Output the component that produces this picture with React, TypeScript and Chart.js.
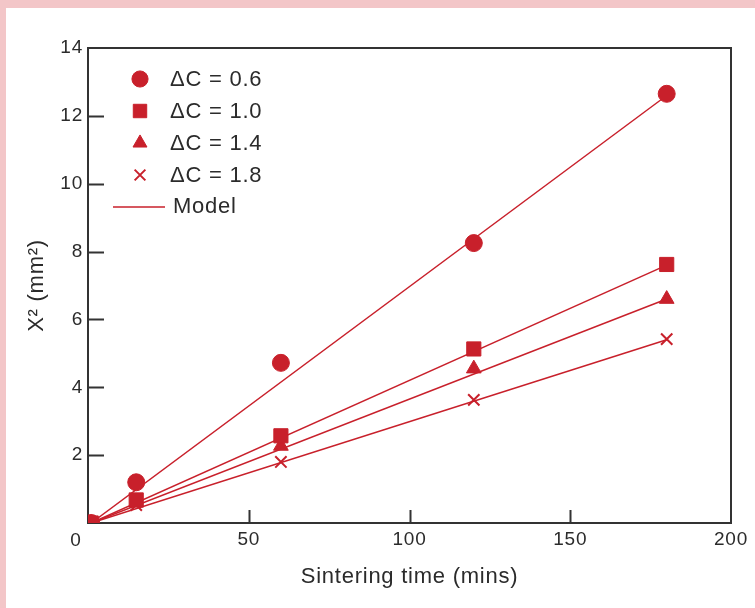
import React, { useEffect, useRef } from 'react';
import { Chart, registerables } from 'chart.js';
import { drawPoint } from 'chart.js/helpers';

Chart.register(...registerables);

// ---- data ----
const times = [1, 15, 60, 120, 180];
const dc06 = [0, 1.2, 4.72, 8.25, 12.65];
const dc10 = [0, 0.68, 2.57, 5.13, 7.62];
const dc14 = [0, 0.6, 2.27, 4.55, 6.6];
const dc18 = [0, 0.53, 1.8, 3.63, 5.42];
const modelTimes = [1, 180];
const model06 = [0, 12.6];
const model10 = [0, 7.6];
const model14 = [0, 6.6];
const model18 = [0, 5.4];
const seriesLabels = ['ΔC = 0.6', 'ΔC = 1.0', 'ΔC = 1.4', 'ΔC = 1.8'];
const modelLabel = 'Model';
const xTitle = 'Sintering time (mins)';
const yTitle = 'X² (mm²)';
const cornerLabel = '0';

const RED = '#c8202b';
const AXIS = '#333333';
const TEXT = '#2b2b2b';
const FONT = "'Liberation Sans', Arial, sans-serif";
const SPACING = '0.75px';

const markerStyles = [
  { pointStyle: 'circle', radius: 8.5, borderWidth: 1 },
  { pointStyle: 'rect', radius: 10, borderWidth: 1 },
  { pointStyle: 'triangle', radius: 8.5, borderWidth: 1 },
  { pointStyle: 'crossRot', radius: 8, borderWidth: 2 },
];

const toPts = (xs: number[], ys: number[]) => xs.map((x, i) => ({ x, y: ys[i] }));

const spacingPlugin = {
  id: 'spacing',
  beforeDraw(chart: any) {
    (chart.ctx as any).letterSpacing = SPACING;
  },
};

const framePlugin = {
  id: 'frame',
  beforeDatasetsDraw(chart: any) {
    const { ctx, chartArea: a, scales } = chart;
    ctx.save();
    ctx.strokeStyle = AXIS;
    ctx.lineWidth = 2;
    ctx.strokeRect(a.left, a.top, a.right - a.left, a.bottom - a.top);
    ctx.beginPath();
    scales.y.ticks.forEach((t: any) => {
      if (t.value <= scales.y.min || t.value >= scales.y.max) return;
      const y = Math.round(scales.y.getPixelForValue(t.value)) + 0.5;
      ctx.moveTo(a.left, y);
      ctx.lineTo(a.left + 16, y);
    });
    scales.x.ticks.forEach((t: any) => {
      if (t.value <= scales.x.min || t.value >= scales.x.max) return;
      const x = Math.round(scales.x.getPixelForValue(t.value)) + 0.5;
      ctx.moveTo(x, a.bottom);
      ctx.lineTo(x, a.bottom - 13);
    });
    ctx.stroke();
    ctx.restore();
  },
  afterDraw(chart: any) {
    const { ctx, chartArea: a } = chart;
    ctx.save();
    (ctx as any).letterSpacing = SPACING;
    ctx.fillStyle = TEXT;
    ctx.font = `19px ${FONT}`;
    ctx.textAlign = 'center';
    ctx.textBaseline = 'middle';
    ctx.fillText(cornerLabel, a.left - 12, a.bottom + 18);
    ctx.restore();
  },
};

const legendPlugin = {
  id: 'customLegend',
  afterDraw(chart: any) {
    const { ctx, chartArea: a } = chart;
    ctx.save();
    (ctx as any).letterSpacing = SPACING;
    const mx = a.left + 52;
    const tx = a.left + 82;
    const y0 = a.top + 31;
    const step = 32;
    seriesLabels.forEach((lab, i) => {
      const y = y0 + i * step;
      const m = markerStyles[i];
      ctx.fillStyle = RED;
      ctx.strokeStyle = RED;
      ctx.lineWidth = m.borderWidth;
      drawPoint(ctx, { pointStyle: m.pointStyle, radius: m.radius * 0.95, rotation: 0, borderWidth: m.borderWidth } as any, mx, y);
      ctx.fillStyle = TEXT;
      ctx.font = `22px ${FONT}`;
      ctx.textAlign = 'left';
      ctx.textBaseline = 'middle';
      ctx.fillText(lab, tx, y + 1);
    });
    const ym = y0 + 4 * step;
    ctx.strokeStyle = RED;
    ctx.lineWidth = 1.5;
    ctx.beginPath();
    ctx.moveTo(a.left + 25, ym);
    ctx.lineTo(a.left + 77, ym);
    ctx.stroke();
    ctx.fillStyle = TEXT;
    ctx.font = `22px ${FONT}`;
    ctx.textAlign = 'left';
    ctx.textBaseline = 'middle';
    ctx.fillText(modelLabel, tx + 3, ym);
    ctx.restore();
  },
};

export default function App() {
  const ref = useRef<HTMLCanvasElement | null>(null);

  useEffect(() => {
    document.body.style.margin = '0';
    const canvas = ref.current;
    if (!canvas) return;
    const dataSeries = [dc06, dc10, dc14, dc18];
    const modelSeries = [model06, model10, model14, model18];

    const datasets: any[] = [];
    dataSeries.forEach((ys, i) => {
      const m = markerStyles[i];
      datasets.push({
        label: seriesLabels[i],
        data: toPts(times, ys),
        showLine: false,
        pointStyle: m.pointStyle,
        pointRadius: m.radius,
        pointBorderWidth: m.borderWidth,
        pointBackgroundColor: RED,
        pointBorderColor: RED,
        order: 0,
      });
    });
    modelSeries.forEach((ys, i) => {
      datasets.push({
        label: modelLabel + ' ' + i,
        data: toPts(modelTimes, ys),
        showLine: true,
        borderColor: RED,
        borderWidth: 1.5,
        pointRadius: 0,
        order: 1,
      });
    });

    const chart = new Chart(canvas, {
      type: 'scatter',
      data: { datasets },
      options: {
        responsive: false,
        animation: false,
        devicePixelRatio: 1,
        layout: { padding: { top: 48, right: 24, bottom: 0, left: 0 } },
        plugins: { legend: { display: false }, tooltip: { enabled: false } },
        scales: {
          x: {
            type: 'linear',
            min: 0,
            max: 200,
            ticks: {
              stepSize: 50,
              color: TEXT,
              font: { family: FONT, size: 19 },
              padding: 5,
              maxRotation: 0,
              callback: (v: any) => (v === 0 ? '' : String(v)),
            },
            grid: { display: false, drawTicks: false },
            border: { display: false },
            title: {
              display: true,
              text: xTitle,
              color: TEXT,
              font: { family: FONT, size: 22 },
              padding: { top: 0, bottom: 18 },
            },
            afterFit: (s: any) => {
              s.height = 85;
            },
          },
          y: {
            type: 'linear',
            min: 0,
            max: 14,
            ticks: {
              stepSize: 2,
              color: TEXT,
              font: { family: FONT, size: 19 },
              padding: 5,
              callback: (v: any) => (v === 0 ? '' : String(v)),
            },
            grid: { display: false, drawTicks: false },
            border: { display: false },
            title: {
              display: true,
              text: yTitle,
              color: TEXT,
              font: { family: FONT, size: 22 },
              padding: { top: 24, bottom: 0 },
            },
            afterFit: (s: any) => {
              s.width = 88;
            },
          },
        },
      },
      plugins: [spacingPlugin, framePlugin, legendPlugin],
    });
    return () => chart.destroy();
  }, []);

  return (
    <div style={{ position: 'relative', width: 755, height: 608, background: '#f3c6c8', overflow: 'hidden' }}>
      <div style={{ position: 'absolute', left: 6, top: 8, right: 0, bottom: 0, background: '#ffffff' }} />
      <canvas ref={ref} width={755} height={608} style={{ position: 'absolute', left: 0, top: 0, display: 'block' }} />
    </div>
  );
}
